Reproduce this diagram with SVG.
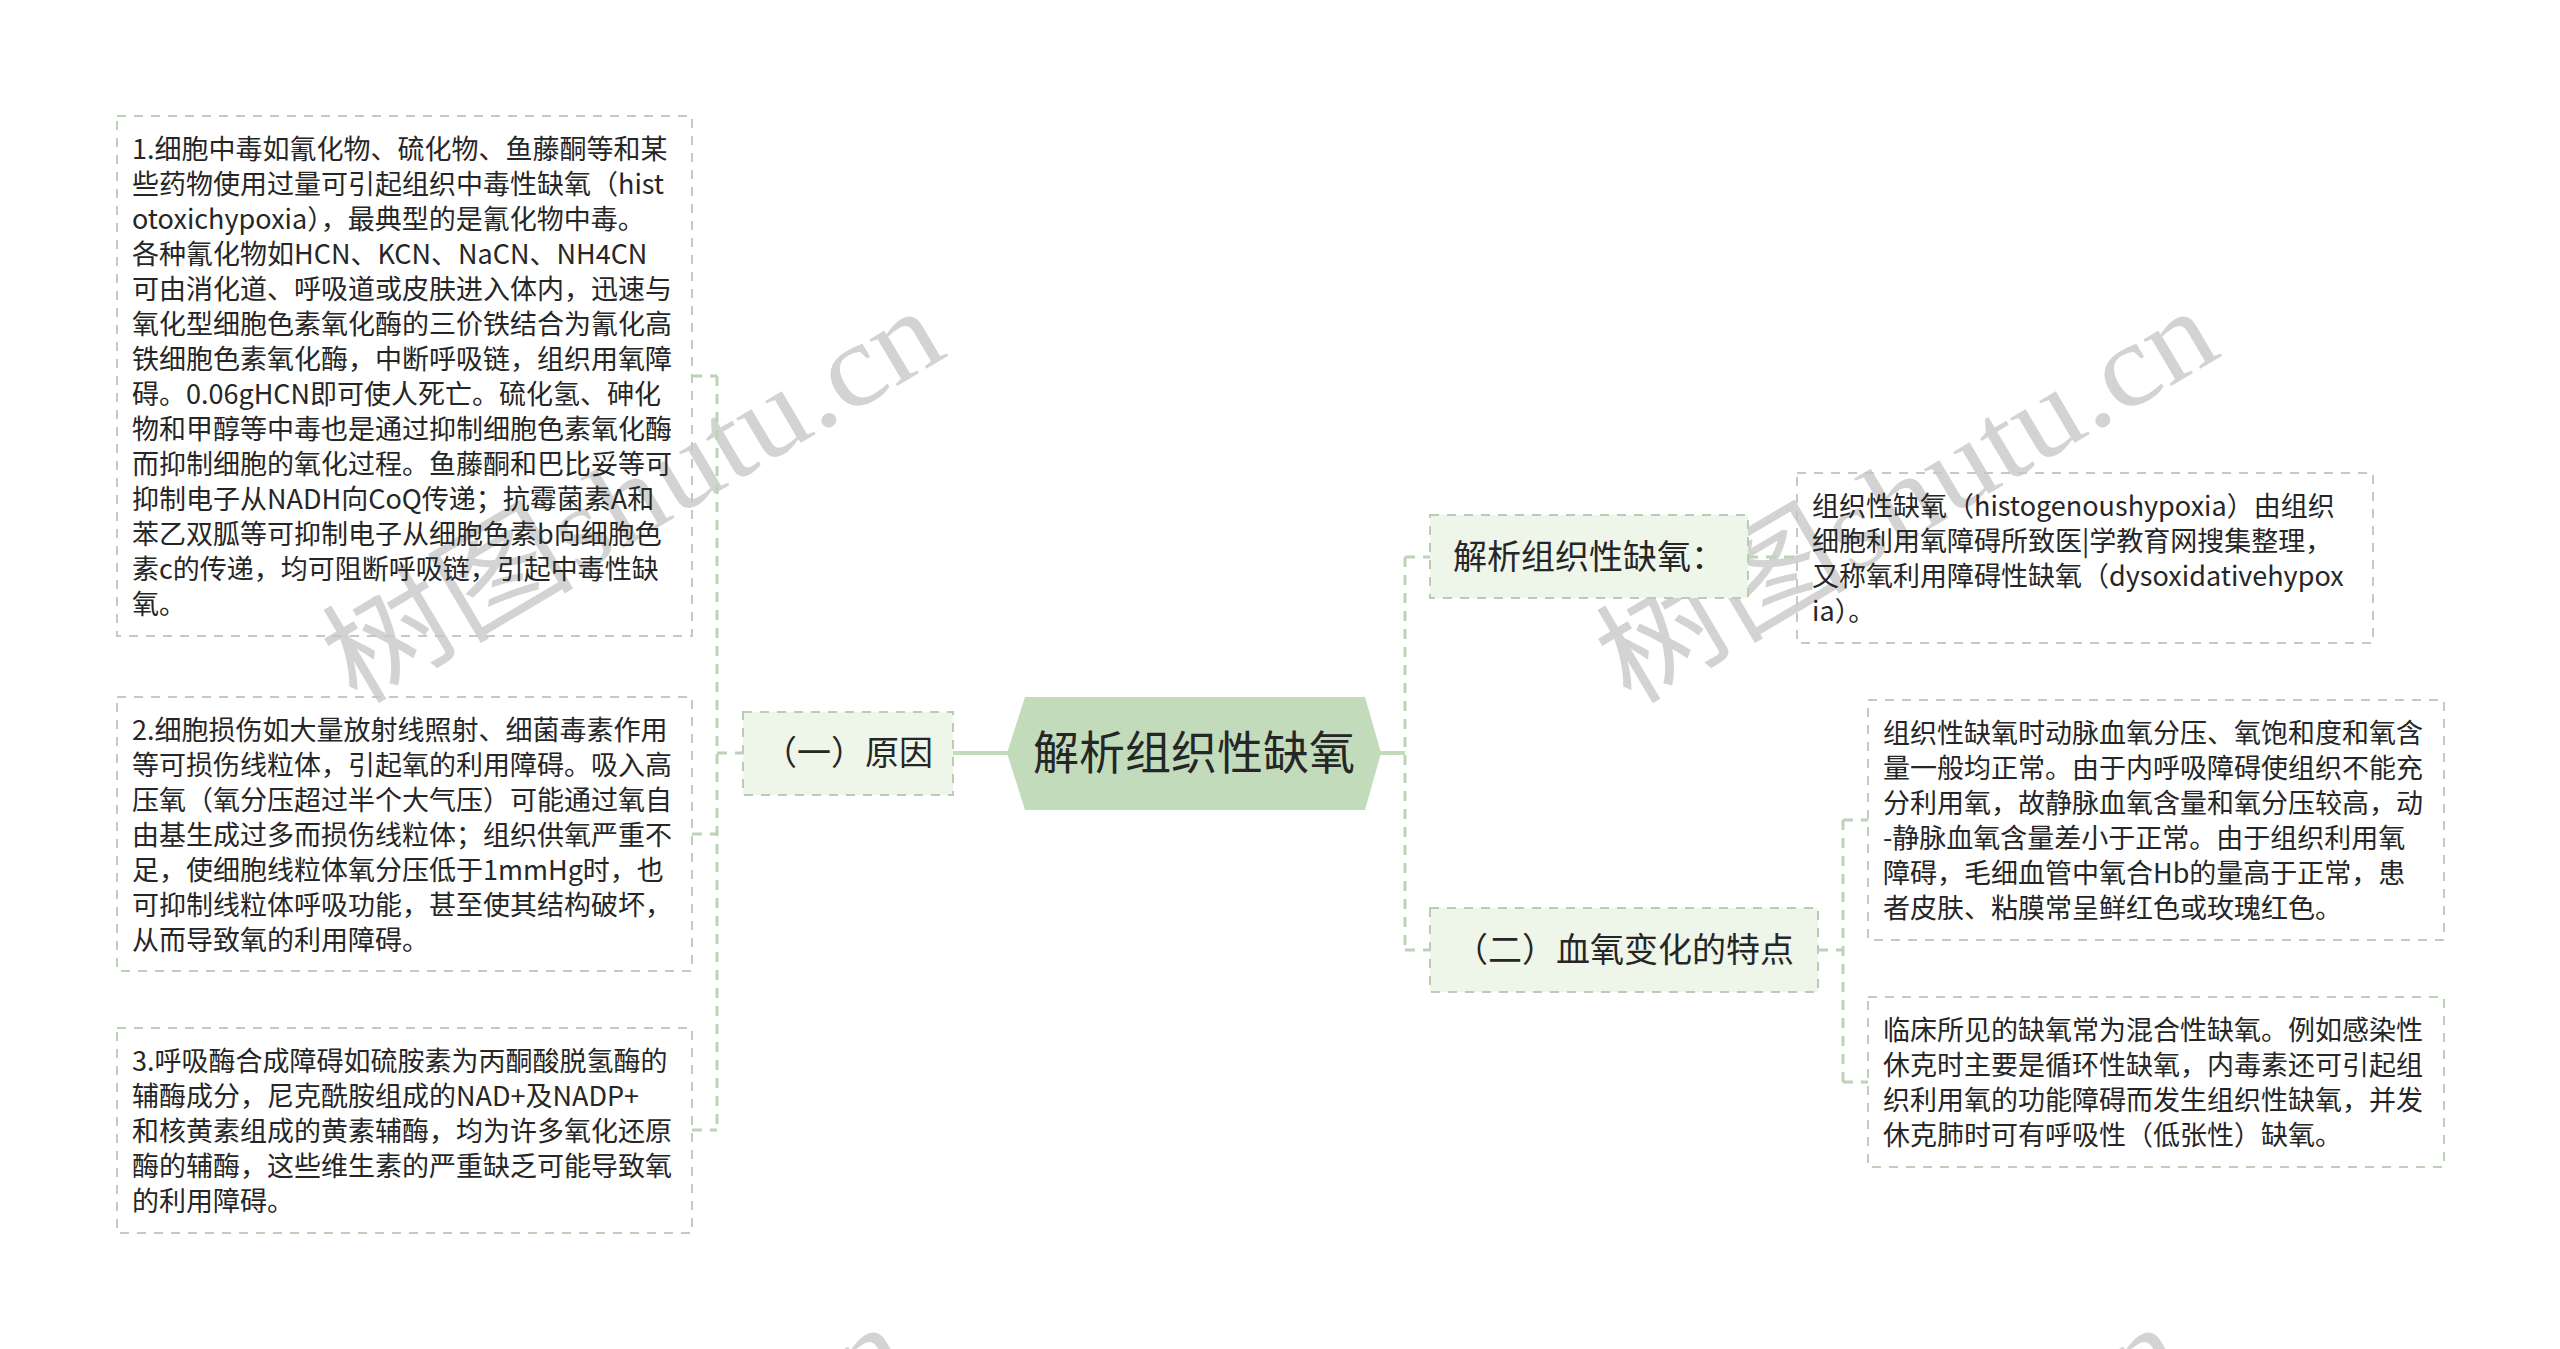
<svg xmlns="http://www.w3.org/2000/svg" width="2560" height="1349" viewBox="0 0 2560 1349">
<style>
.bg{fill:#ffffff}
.wm{font-family:"Liberation Serif","Noto Sans CJK SC",serif;font-size:118px;fill:#d3d3d3}
.box{fill:none;stroke:#bcd0b8;stroke-width:2;stroke-dasharray:9 8}
.sub{fill:#eef5e9;stroke:#b9cdb5;stroke-width:2;stroke-dasharray:9 8}
.root{fill:#c1dbbb}
.t{font-family:"Noto Sans CJK SC","Noto Sans",sans-serif;font-size:27px;fill:#262626}
.lbl{font-family:"Noto Sans CJK SC","Noto Sans",sans-serif;font-size:34px;fill:#262626;text-anchor:middle}
.rt{font-family:"Noto Sans CJK SC","Noto Sans",sans-serif;font-size:46px;fill:#262626;text-anchor:middle}
.dash{fill:none;stroke:#bcd3b7;stroke-width:3;stroke-dasharray:10 8}
.solid{fill:none;stroke:#c1dbbb;stroke-width:4}
</style>
<rect class="bg" x="0" y="0" width="2560" height="1349"/>
<g id="watermark">
<text class="wm" x="356" y="706" transform="rotate(-30.6 356 706)" textLength="690" lengthAdjust="spacingAndGlyphs">树图shutu.cn</text>
<text class="wm" x="1630" y="706" transform="rotate(-30.6 1630 706)" textLength="690" lengthAdjust="spacingAndGlyphs">树图shutu.cn</text>
<text class="wm" x="320" y="1722" transform="rotate(-30.6 320 1722)" textLength="690" lengthAdjust="spacingAndGlyphs">树图shutu.cn</text>
<text class="wm" x="1595" y="1722" transform="rotate(-30.6 1595 1722)" textLength="690" lengthAdjust="spacingAndGlyphs">树图shutu.cn</text>
</g>
<g id="connectors">
<line class="solid" x1="953" y1="753" x2="1009" y2="753"/>
<line class="solid" x1="1379" y1="753" x2="1405" y2="753"/>
<path class="dash" d="M717 376 V1130 M692 376 H717 M692 834 H717 M692 1130 H717 M717 753 H743"/>
<path class="dash" d="M1405 557 V950 M1405 557 H1430 M1405 950 H1430"/>
<path class="dash" d="M1748 557 H1797"/>
<path class="dash" d="M1818 950 H1843 M1843 820 V1082 M1843 820 H1868 M1843 1082 H1868"/>
</g>
<g id="root">
<polygon class="root" points="1007,753 1025,697 1365,697 1381,753 1365,810 1025,810"/>
<text class="rt" x="1194" y="769">解析组织性缺氧</text>
</g>
<g id="n-cause">
<rect class="sub" x="743" y="712" width="210" height="83"/>
<text class="lbl" x="848" y="765">（一）原因</text>
</g>
<g id="n-c1">
<rect class="box" x="117" y="116" width="575" height="520"/>
<text class="t" x="132" y="159">
<tspan x="132" dy="0">1.细胞中毒如氰化物、硫化物、鱼藤酮等和某</tspan>
<tspan x="132" dy="35">些药物使用过量可引起组织中毒性缺氧（hist</tspan>
<tspan x="132" dy="35">otoxichypoxia），最典型的是氰化物中毒。</tspan>
<tspan x="132" dy="35">各种氰化物如HCN、KCN、NaCN、NH4CN</tspan>
<tspan x="132" dy="35">可由消化道、呼吸道或皮肤进入体内，迅速与</tspan>
<tspan x="132" dy="35">氧化型细胞色素氧化酶的三价铁结合为氰化高</tspan>
<tspan x="132" dy="35">铁细胞色素氧化酶，中断呼吸链，组织用氧障</tspan>
<tspan x="132" dy="35">碍。0.06gHCN即可使人死亡。硫化氢、砷化</tspan>
<tspan x="132" dy="35">物和甲醇等中毒也是通过抑制细胞色素氧化酶</tspan>
<tspan x="132" dy="35">而抑制细胞的氧化过程。鱼藤酮和巴比妥等可</tspan>
<tspan x="132" dy="35">抑制电子从NADH向CoQ传递；抗霉菌素A和</tspan>
<tspan x="132" dy="35">苯乙双胍等可抑制电子从细胞色素b向细胞色</tspan>
<tspan x="132" dy="35">素c的传递，均可阻断呼吸链，引起中毒性缺</tspan>
<tspan x="132" dy="35">氧。</tspan>
</text>
</g>
<g id="n-c2">
<rect class="box" x="117" y="697" width="575" height="274"/>
<text class="t" x="132" y="740">
<tspan x="132" dy="0">2.细胞损伤如大量放射线照射、细菌毒素作用</tspan>
<tspan x="132" dy="35">等可损伤线粒体，引起氧的利用障碍。吸入高</tspan>
<tspan x="132" dy="35">压氧（氧分压超过半个大气压）可能通过氧自</tspan>
<tspan x="132" dy="35">由基生成过多而损伤线粒体；组织供氧严重不</tspan>
<tspan x="132" dy="35">足，使细胞线粒体氧分压低于1mmHg时，也</tspan>
<tspan x="132" dy="35">可抑制线粒体呼吸功能，甚至使其结构破坏，</tspan>
<tspan x="132" dy="35">从而导致氧的利用障碍。</tspan>
</text>
</g>
<g id="n-c3">
<rect class="box" x="117" y="1028" width="575" height="205"/>
<text class="t" x="132" y="1071">
<tspan x="132" dy="0">3.呼吸酶合成障碍如硫胺素为丙酮酸脱氢酶的</tspan>
<tspan x="132" dy="35">辅酶成分，尼克酰胺组成的NAD+及NADP+</tspan>
<tspan x="132" dy="35">和核黄素组成的黄素辅酶，均为许多氧化还原</tspan>
<tspan x="132" dy="35">酶的辅酶，这些维生素的严重缺乏可能导致氧</tspan>
<tspan x="132" dy="35">的利用障碍。</tspan>
</text>
</g>
<g id="n-analysis">
<rect class="sub" x="1430" y="515" width="318" height="83"/>
<text class="lbl" x="1589" y="569">解析组织性缺氧：</text>
</g>
<g id="n-a1">
<rect class="box" x="1797" y="473" width="576" height="170"/>
<text class="t" x="1812" y="516">
<tspan x="1812" dy="0">组织性缺氧（histogenoushypoxia）由组织</tspan>
<tspan x="1812" dy="35">细胞利用氧障碍所致医|学教育网搜集整理，</tspan>
<tspan x="1812" dy="35">又称氧利用障碍性缺氧（dysoxidativehypox</tspan>
<tspan x="1812" dy="35">ia）。</tspan>
</text>
</g>
<g id="n-blood">
<rect class="sub" x="1430" y="908" width="388" height="84"/>
<text class="lbl" x="1624" y="962">（二）血氧变化的特点</text>
</g>
<g id="n-b1">
<rect class="box" x="1868" y="700" width="576" height="240"/>
<text class="t" x="1883" y="743">
<tspan x="1883" dy="0">组织性缺氧时动脉血氧分压、氧饱和度和氧含</tspan>
<tspan x="1883" dy="35">量一般均正常。由于内呼吸障碍使组织不能充</tspan>
<tspan x="1883" dy="35">分利用氧，故静脉血氧含量和氧分压较高，动</tspan>
<tspan x="1883" dy="35">-静脉血氧含量差小于正常。由于组织利用氧</tspan>
<tspan x="1883" dy="35">障碍，毛细血管中氧合Hb的量高于正常，患</tspan>
<tspan x="1883" dy="35">者皮肤、粘膜常呈鲜红色或玫瑰红色。</tspan>
</text>
</g>
<g id="n-b2">
<rect class="box" x="1868" y="997" width="576" height="170"/>
<text class="t" x="1883" y="1040">
<tspan x="1883" dy="0">临床所见的缺氧常为混合性缺氧。例如感染性</tspan>
<tspan x="1883" dy="35">休克时主要是循环性缺氧，内毒素还可引起组</tspan>
<tspan x="1883" dy="35">织利用氧的功能障碍而发生组织性缺氧，并发</tspan>
<tspan x="1883" dy="35">休克肺时可有呼吸性（低张性）缺氧。</tspan>
</text>
</g>
</svg>
